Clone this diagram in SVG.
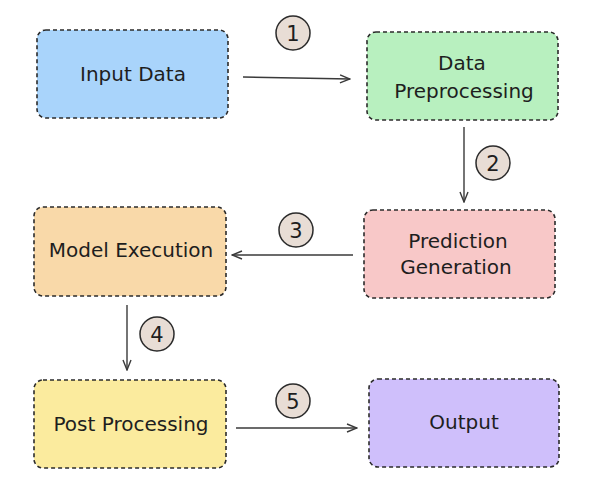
<svg xmlns="http://www.w3.org/2000/svg" width="593" height="500" viewBox="0 0 593 500">
<defs>
<style>
.box{stroke:#2b2b2b;stroke-width:1.6;stroke-dasharray:4 3}
.lbl{font-family:"DejaVu Sans","Liberation Sans",sans-serif;font-size:20px;fill:#1e1e1e;text-anchor:middle;dominant-baseline:central}
.badge circle{fill:#e8ddd5;stroke:#2b2b2b;stroke-width:1.5}
.badge text{font-family:"DejaVu Sans","Liberation Sans",sans-serif;font-size:21px;fill:#1e1e1e;text-anchor:middle;dominant-baseline:central}
.conn{stroke:#3a3a3a;stroke-width:1.4;fill:none;marker-end:url(#arr)}
</style>
<marker id="arr" viewBox="0 0 12 12" refX="11" refY="6" markerWidth="12" markerHeight="12" markerUnits="userSpaceOnUse" orient="auto">
<path d="M1,2 L11,6 L1,10" fill="none" stroke="#3a3a3a" stroke-width="1.4"/>
</marker>
</defs>
<rect width="593" height="500" fill="#ffffff"/>
<g id="connectors">
<path class="conn" d="M243,77 L350,79"/>
<path class="conn" d="M464,127 L464,202"/>
<path class="conn" d="M353,255 L232,255"/>
<path class="conn" d="M127,305 L127,370"/>
<path class="conn" d="M236,428 L357,428"/>
</g>
<g id="badges">
<g class="badge" id="b1"><circle cx="293" cy="33" r="17"/><text x="293" y="34">1</text></g>
<g class="badge" id="b2"><circle cx="493" cy="163" r="17"/><text x="493" y="164">2</text></g>
<g class="badge" id="b3"><circle cx="296" cy="230" r="17"/><text x="296" y="231">3</text></g>
<g class="badge" id="b4"><circle cx="157" cy="334" r="17"/><text x="157" y="335">4</text></g>
<g class="badge" id="b5"><circle cx="293" cy="401" r="17"/><text x="293" y="402">5</text></g>
</g>
<g id="input-data"><rect class="box" x="37" y="30" width="191" height="88" rx="9" fill="#a9d4fb"/><text class="lbl" x="133" y="74">Input Data</text></g>
<g id="data-preprocessing"><rect class="box" x="367" y="32" width="191" height="88" rx="9" fill="#b8f0bf"/><text class="lbl" x="462" y="63">Data</text><text class="lbl" x="464" y="91">Preprocessing</text></g>
<g id="prediction-generation"><rect class="box" x="364" y="210" width="191" height="88" rx="9" fill="#f8c8c8"/><text class="lbl" x="458" y="241">Prediction</text><text class="lbl" x="456" y="267">Generation</text></g>
<g id="model-execution"><rect class="box" x="34" y="207" width="192" height="89" rx="9" fill="#f9d9a9"/><text class="lbl" x="131" y="250">Model Execution</text></g>
<g id="post-processing"><rect class="box" x="34" y="380" width="192" height="88" rx="9" fill="#fbeb9e"/><text class="lbl" x="131" y="424">Post Processing</text></g>
<g id="output"><rect class="box" x="369" y="379" width="190" height="88" rx="9" fill="#cfbffb"/><text class="lbl" x="464" y="422">Output</text></g>
</svg>
